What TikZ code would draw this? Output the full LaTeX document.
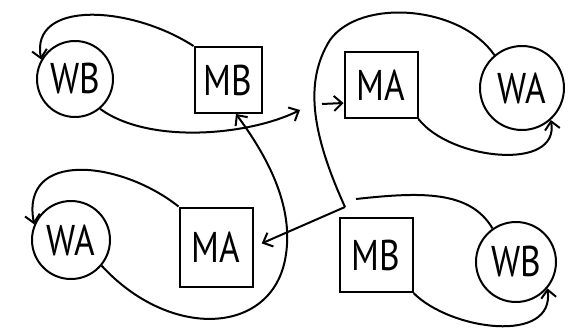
\documentclass[tikz,border=0pt]{standalone}
\usepackage{fontspec}
\setsansfont{PT Sans}
\usetikzlibrary{arrows.meta}
\newcommand\narrowtxt[1]{\scalebox{0.82}[1]{#1}}
\begin{document}
\begin{tikzpicture}[x=1pt,y=-1pt,
  state/.style={circle,draw,line width=2pt,inner sep=0pt,font=\sffamily\fontsize{43}{43}\selectfont},
  mbox/.style={rectangle,draw,line width=2pt,inner sep=0pt,font=\sffamily\fontsize{43}{43}\selectfont},
  link/.style={line width=2pt},
  arr/.style={link,-{Straight Barb[length=8pt,width=15pt,line width=2pt]}}]
\useasboundingbox (0,0) rectangle (574,330);
\node[state,minimum size=76pt] (WBt) at (75,79) {\narrowtxt{WB}};
\node[mbox,minimum width=67pt,minimum height=66pt] (MBt) at (228,80) {\narrowtxt{MB}};
\node[mbox,minimum width=73pt,minimum height=66pt] (MAt) at (381,85) {\narrowtxt{MA}};
\node[state,minimum size=84pt] (WAt) at (522,88) {\narrowtxt{WA}};
\node[state,minimum size=78pt] (WAb) at (71,240) {\narrowtxt{WA}};
\node[mbox,minimum width=73pt,minimum height=79pt] (MAb) at (216,247) {\narrowtxt{MA}};
\node[mbox,minimum width=73pt,minimum height=74pt] (MBb) at (376,255) {\narrowtxt{MB}};
\node[state,minimum size=80pt] (WBb) at (516,262) {\narrowtxt{WB}};
\coordinate (gap1) at (300,110);
\coordinate (gap2) at (322,104);
\coordinate (j1) at (345,207);
\coordinate (wbend) at (356,199);
\draw[arr] (MBt.north west) .. controls (130,5) and (30,0) .. (WBt.150);
\draw[arr] (WBt.-50) .. controls (150,145) and (250,135) .. (gap1);
\draw[arr] (gap2) -- ([yshift=-18pt]MAt.west);
\draw[link] (WAt.130) .. controls (460,5) and (360,-2) .. (330,40) .. controls (305,80) and (310,130) .. (j1);
\draw[arr,shorten >=9pt] (j1) -- (MAb.east);
\draw[link] (WBb.125) .. controls (470,190) and (420,192) .. (wbend);
\draw[arr] (MAt.south east) .. controls (450,160) and (560,172) .. (WAt.-48);
\draw[arr] (MAb.north west) .. controls (120,160) and (20,150) .. (WAb.157);
\draw[arr] (WAb.-40) .. controls (170,340) and (270,335) .. (285,260) .. controls (295,210) and (270,160) .. ([xshift=8pt]MBt.south);
\draw[arr] (MBb.south east) .. controls (450,330) and (555,345) .. (WBb.-40);
\end{tikzpicture}
\end{document}
